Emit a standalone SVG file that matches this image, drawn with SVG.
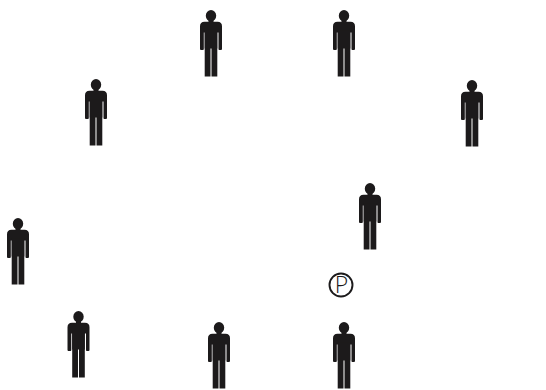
<svg xmlns="http://www.w3.org/2000/svg" width="546" height="390" viewBox="0 0 546 390">
<style>
.f{fill:#1c1a1b}
.c{fill:none;stroke:#1c1a1b;stroke-width:1.900}
.t{font-family:"Open Sans","Liberation Sans",sans-serif;font-weight:300;font-size:23px;fill:#1c1a1b;text-anchor:middle}
</style>
<defs>
<symbol id="p" overflow="visible">
<ellipse class="f" cx="0" cy="5.200" rx="5.200" ry="5.600"/>
<rect class="f" x="-2.500" y="8" width="5" height="5"/>
<path class="f" d="M-6.500 11.300H6.500Q11 11.300 11 15.800V38.500Q11 39.500 10 39.500H8.300Q7.500 39.500 7.500 38.500V22H6.300V66H0.500V36H-0.500V66H-6.300V22H-7.200V38.500Q-7.200 39.500-8 39.500H-10Q-11 39.500-11 38.500V15.800Q-11 11.300-6.500 11.300Z"/>
<path class="f" d="M-6.300 20H6.300V38H-6.300Z"/>
</symbol>
</defs>
<g id="person-1"><use href="#p" x="211" y="10.500"/></g>
<g id="person-2"><use href="#p" x="344" y="10.500"/></g>
<g id="person-3"><use href="#p" x="96" y="79.500"/></g>
<g id="person-4"><use href="#p" x="472" y="80.500"/></g>
<g id="person-5"><use href="#p" x="370" y="183.500"/></g>
<g id="person-6"><use href="#p" x="18" y="218.500"/></g>
<g id="person-7"><use href="#p" x="78.500" y="311.500"/></g>
<g id="person-8"><use href="#p" x="219" y="322.500"/></g>
<g id="person-9"><use href="#p" x="344" y="322.500"/></g>
<g id="presenter"><circle class="c" cx="341" cy="285" r="11.500"/><text class="t" x="341.500" y="293">P</text></g>
<g id="connectors"/>
</svg>
